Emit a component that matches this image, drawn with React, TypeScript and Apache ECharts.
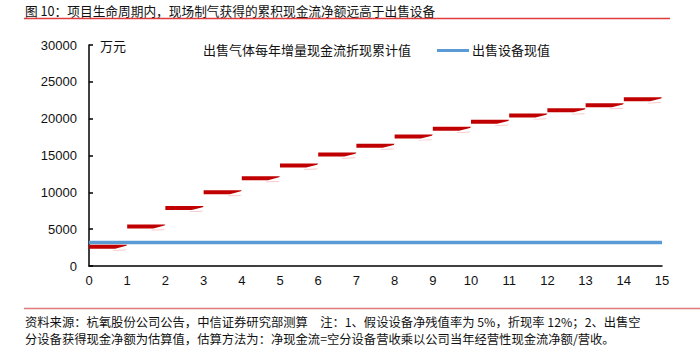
import React, { useEffect, useRef } from "react";
import * as echarts from "echarts";

const titleText = "图 10：项目生命周期内，现场制气获得的累积现金流净额远高于出售设备";
const footLine1 = "资料来源：杭氧股份公司公告，中信证券研究部测算　注：1、假设设备净残值率为 5%，折现率 12%；2、出售空";
const footLine2 = "分设备获得现金净额为估算值，估算方法为：净现金流=空分设备营收乘以公司当年经营性现金流净额/营收。";
const unitLabel = "万元";
const gasSeriesName = "出售气体每年增量现金流折现累计值";
const equipSeriesName = "出售设备现值";

// start year of each horizontal segment
const yearStarts = [0, 1, 2, 3, 4, 5, 6, 7, 8, 9, 10, 11, 12, 13, 14];
const gasCumulative = [2600, 5350, 7850, 10000, 11900, 13600, 15100, 16300, 17550, 18600, 19550, 20400, 21100, 21800, 22600];
const equipYears = [0, 15];
const equipValue = [3200, 3200];

const CJK = '"Noto Sans CJK SC", "Noto Sans", sans-serif';
const NUM = '"Liberation Sans", Arial, sans-serif';

export default function App() {
  const ref = useRef<HTMLDivElement>(null);
  useEffect(() => {
    if (!ref.current) return;
    const chart = echarts.init(ref.current, undefined, { renderer: "svg" });
    const option: any = {
      animation: false,
      backgroundColor: "#ffffff",
      grid: { left: 89, right: 38, top: 45, bottom: 90, containLabel: false },
      xAxis: {
        type: "value",
        min: 0,
        max: 15,
        interval: 1,
        axisLine: { show: true, lineStyle: { color: "#000", width: 1.5 } },
        axisTick: { show: false },
        splitLine: { show: false },
        axisLabel: { color: "#111", fontFamily: NUM, fontSize: 13, margin: 8 },
      },
      yAxis: {
        type: "value",
        min: 0,
        max: 30000,
        interval: 5000,
        axisLine: { show: true, lineStyle: { color: "#000", width: 1.5 } },
        axisTick: { show: true, inside: true, length: 4, lineStyle: { color: "#000", width: 1.5 } },
        splitLine: { show: false },
        axisLabel: {
          color: "#111",
          fontFamily: NUM,
          fontSize: 13,
          margin: 12,
          formatter: (v: number) => String(v),
        },
      },
      series: [
        {
          name: equipSeriesName,
          type: "line",
          data: equipYears.map((x, i) => [x, equipValue[i]]),
          symbol: "none",
          lineStyle: { color: "#5B9BD5", width: 3.5 },
          z: 2,
        },
        {
          name: gasSeriesName,
          type: "custom",
          encode: { x: 0, y: 1 },
          data: yearStarts.map((x, i) => [x, gasCumulative[i]]),
          z: 3,
          renderItem: (params: any, api: any) => {
            const x0 = api.value(0);
            const v = api.value(1);
            const p0 = api.coord([x0, v]);
            const p1 = api.coord([x0 + 1, v]);
            const y = p0[1];
            const a = p0[0];
            const b = p1[0];
            return {
              type: "group",
              children: [
                {
                  type: "polygon",
                  shape: {
                    points: [
                      [b - 14, y + 3.2],
                      [b, y + 2.6],
                      [b - 2, y + 3.6],
                      [b - 14, y + 3.9],
                    ],
                  },
                  style: { fill: "#f4c4c4" },
                },
                {
                  type: "polygon",
                  shape: {
                    points: [
                      [a, y - 2.2],
                      [b, y - 2.2],
                      [b - 1, y - 1],
                      [b - 12, y + 1.8],
                      [a, y + 1.8],
                    ],
                  },
                  style: { fill: "#C00000" },
                },
              ],
            };
          },
        },
      ],
      graphic: [
        {
          type: "text",
          left: 25,
          top: 4,
          style: { text: titleText, fill: "#111", font: `12.7px ${CJK}` },
        },
        {
          type: "line",
          shape: { x1: 24, y1: 18.5, x2: 670, y2: 18.5 },
          style: { stroke: "#e03c3c", lineWidth: 1.5 },
        },
        {
          type: "text",
          left: 100,
          top: 39,
          style: { text: unitLabel, fill: "#111", font: `13px ${CJK}` },
        },
        {
          type: "text",
          left: 203,
          top: 43,
          style: { text: gasSeriesName, fill: "#111", font: `13px ${CJK}` },
        },
        {
          type: "line",
          shape: { x1: 437, y1: 50.5, x2: 469, y2: 50.5 },
          style: { stroke: "#5B9BD5", lineWidth: 3 },
        },
        {
          type: "text",
          left: 472,
          top: 43,
          style: { text: equipSeriesName, fill: "#111", font: `13px ${CJK}` },
        },
        {
          type: "line",
          shape: { x1: 24, y1: 308.5, x2: 700, y2: 308.5 },
          style: { stroke: "#e07a7a", lineWidth: 1.5 },
        },
        {
          type: "text",
          left: 25,
          top: 314,
          style: { text: footLine1, fill: "#111", font: `12.3px ${CJK}`, lineHeight: 15 },
        },
        {
          type: "text",
          left: 25,
          top: 331,
          style: { text: footLine2, fill: "#111", font: `12.3px ${CJK}`, lineHeight: 15 },
        },
      ],
    };
    chart.setOption(option);
    return () => chart.dispose();
  }, []);
  return (
    <div
      ref={ref}
      style={{ position: "fixed", left: 0, top: 0, width: 700, height: 356, background: "#fff" }}
    />
  );
}
